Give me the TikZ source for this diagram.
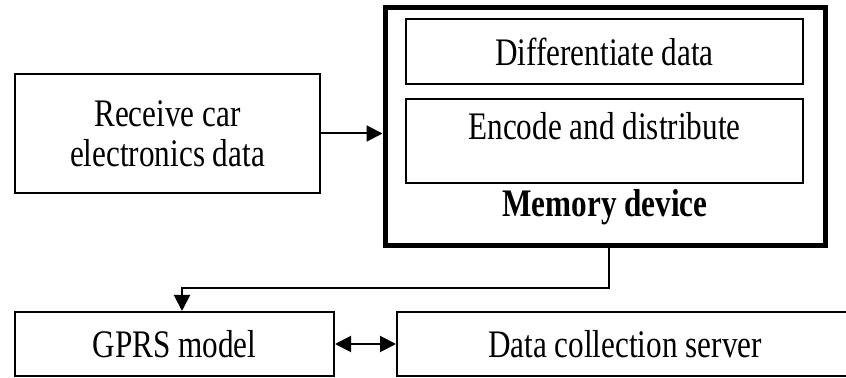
\documentclass[tikz,border=0pt]{standalone}
\usepackage{fontspec}
\setmainfont{Liberation Serif}[FakeStretch=0.8]
\usetikzlibrary{arrows.meta, positioning, calc}

\begin{document}
\begin{tikzpicture}[x=0.5pt, y=-0.5pt, line width=1pt,
    every node/.style={font=\fontsize{19.5}{20}\selectfont},
    stepbox/.style={draw, align=center, inner sep=0pt},
    membox/.style={draw, line width=2.5pt, inner sep=0pt},
    flow/.style={-{Triangle[length=8pt, width=8pt]}},
    twoway/.style={{Triangle[length=8pt, width=8pt]}-{Triangle[length=8pt, width=8pt]}}]
    \clip (0,0) rectangle (846,378);
    \node[stepbox, minimum width=152.5pt, minimum height=59.5pt] (recv) at (167.5,133.5) {Receive car\\electronics data};
    \node[membox, minimum width=220pt, minimum height=119pt] (mem) at (605,127) {};
    \node[stepbox, minimum width=198.5pt, minimum height=32.5pt] (diff) at (604.5,51.5) {Differentiate data};
    \node[stepbox, minimum width=198.5pt, inner ysep=8pt, text height=12.5pt, text depth=13.5pt, below=6.5pt of diff] (enc) {Encode and distribute};
    \node[anchor=base, font=\fontsize{19.5}{20}\selectfont\bfseries] (memlbl) at (605,217) {Memory device};
    \node[stepbox, minimum width=159.5pt, minimum height=32pt] (gprs) at (174.5,344) {GPRS model};
    \node[stepbox, minimum width=228pt, minimum height=32pt] (server) at (625,344) {Data collection server};
    \coordinate (bend) at (609,288);
    % connectors
    \draw[flow] (recv.east) -- (recv.east -| mem.west);
    \draw[flow] ([xshift=2pt]mem.south) -- ([xshift=2pt]mem.south |- bend) -| ([xshift=3.75pt]gprs.north);
    \draw[twoway] (gprs.east) -- (server.west);
\end{tikzpicture}
\end{document}
